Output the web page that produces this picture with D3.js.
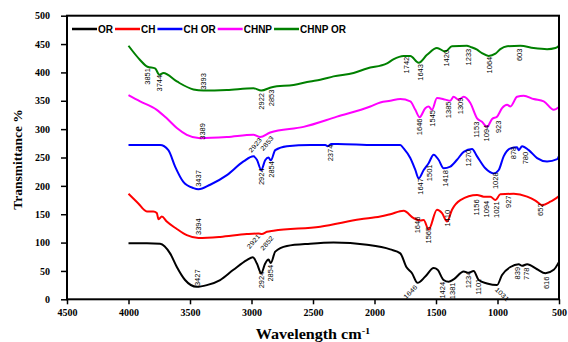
<!DOCTYPE html>
<html><head><meta charset="utf-8">
<script src="https://cdn.jsdelivr.net/npm/d3@7"></script>
<style>body{margin:0;background:#fff}svg{display:block}</style>
</head><body><svg id="c" width="568" height="342"></svg>
<script>
// ---- data ----
const seriesNames = ["OR","CH","CH OR","CHNP","CHNP OR"];
const seriesColors = ["#000000","#ff0000","#0000ff","#ff00ff","#008000"];
const xTicks = [4500,4000,3500,3000,2500,2000,1500,1000,500];
const yTicks = [0,50,100,150,200,250,300,350,400,450,500];

const dataOR = [[4000,99],[3850,99],[3743,98],[3662,81],[3607,57],[3540,34],[3445,22],[3363,25],[3255,34],[3147,52],[3038,69],[2989,74],[2956,63],[2921,46],[2889,63],[2862,70],[2843,64],[2807,84],[2712,94],[2523,98],[2333,100],[2061,96],[1872,88],[1790,81],[1741,57],[1695,46],[1650,29],[1587,40],[1519,55],[1487,52],[1438,34],[1397,31],[1357,35],[1275,49],[1235,47],[1194,50],[1153,34],[1085,28],[1004,25],[963,43],[895,57],[828,62],[800,59],[759,62],[678,53],[610,46],[543,52],[500,66]];
const dataCH = [[4000,186],[3920,169],[3851,155],[3798,155],[3770,152],[3756,141],[3729,146],[3689,137],[3607,124],[3526,113],[3431,108],[3255,110],[3038,115],[2943,116],[2916,115],[2875,119],[2821,121],[2441,128],[2116,141],[1953,146],[1872,150],[1763,156],[1682,143],[1627,139],[1600,140],[1560,123],[1492,158],[1451,152],[1410,137],[1370,158],[1302,175],[1166,184],[1112,181],[1058,181],[1017,175],[977,185],[868,186],[759,181],[692,174],[637,166],[570,172],[500,182]];
const dataCHOR = [[4000,272],[3743,272],[3676,263],[3621,234],[3554,207],[3472,196],[3431,194],[3336,202],[3200,219],[3065,243],[2984,252],[2956,246],[2921,228],[2889,245],[2862,250],[2843,245],[2807,263],[2712,270],[2523,272],[2400,272],[2380,270],[2350,274],[2300,274],[2000,272],[1790,272],[1763,266],[1709,249],[1668,228],[1641,213],[1600,228],[1560,240],[1519,255],[1479,246],[1438,231],[1384,234],[1329,246],[1275,260],[1207,265],[1166,252],[1099,231],[1031,222],[990,228],[950,252],[895,266],[841,268],[828,263],[800,270],[746,263],[678,249],[597,243],[515,247],[500,253]];
const dataCHNP = [[4000,360],[3906,349],[3770,334],[3689,319],[3607,302],[3526,290],[3418,284],[3200,286],[2984,290],[2930,286],[2848,294],[2577,304],[2305,322],[2034,340],[1953,347],[1872,350],[1790,353],[1709,349],[1668,334],[1633,321],[1587,337],[1560,340],[1533,334],[1492,355],[1424,352],[1384,350],[1357,357],[1316,352],[1275,357],[1221,346],[1166,319],[1126,313],[1085,304],[1044,318],[1004,322],[963,337],[922,343],[895,340],[841,357],[787,359],[706,353],[624,349],[543,334],[500,339]];
const dataCHNPOR = [[4000,447],[3906,422],[3846,410],[3784,407],[3749,396],[3716,399],[3607,384],[3472,370],[3391,368],[3200,369],[2984,372],[2921,368],[2834,374],[2658,378],[2523,384],[2441,387],[2333,393],[2170,399],[2061,407],[1898,416],[1847,423],[1763,429],[1709,429],[1641,417],[1573,431],[1492,443],[1424,437],[1370,446],[1248,447],[1221,445],[1166,440],[1126,434],[1072,429],[1017,433],[977,441],[922,446],[814,447],[706,443],[597,441],[529,443],[500,447]];

// peak annotations: [text, wavenumber, transmittance, rotation]
const labelsOR = [["3427",3434,38,-90],["2924",2921,34,-90],["2854",2842,46,-90],["1646",1709,13,-45],["1424",1443,16,-90],["1381",1362,15,-90],["1234",1237,34,-90],["1101",1156,22,-90],["1031",963,9,45],["839",838,46,-90],["778",759,45,-90],["616",602,29,-90]];
const labelsCH = [["3394",3432,128,-90],["2921",2984,102,-50],["2852",2875,99,-50],["1646",1646,131,-90],["1565",1560,113,-90],["1410",1402,143,-90],["1156",1172,162,-90],["1094",1091,159,-90],["1021",1003,158,-90],["927",909,172,-90],["652",645,158,-90]];
const labelsCHOR = [["3437",3432,213,-90],["2924",2921,216,-90],["2854",2834,229,-90],["2374",2352,258,-90],["1647",1622,199,-90],["1501",1552,223,-90],["1418",1419,213,-90],["1270",1235,249,-90],["1028",1017,209,-90],["878",868,258,-90],["780",771,249,-90]];
const labelsCHNP = [["3389",3396,296,-90],["2923",2970,272,-50],["2853",2875,275,-50],["1646",1633,304,-90],["1545",1524,319,-90],["1385",1397,334,-90],["1309",1302,341,-90],["1153",1172,299,-90],["1094",1085,293,-90],["923",991,304,-90]];
const labelsCHNPOR = [["3851",3847,393,-90],["3744",3749,381,-90],["3393",3391,384,-90],["2922",2916,349,-90],["2853",2834,355,-90],["1742",1742,413,-90],["1643",1622,400,-90],["1420",1416,425,-90],["1233",1235,427,-90],["1064",1064,413,-90],["603",820,431,-90]];

const allData = [dataOR,dataCH,dataCHOR,dataCHNP,dataCHNPOR];
const allLabels = [labelsOR,labelsCH,labelsCHOR,labelsCHNP,labelsCHNPOR];

// ---- layout ----
const svg = d3.select("#c");
const L=67, R=559, T=15.7, B=299.3;
const x = d3.scaleLinear().domain([4500,500]).range([L,R]);
const y = d3.scaleLinear().domain([0,500]).range([B,T]);
const serif = "'Liberation Serif','Times New Roman',serif";
const sans = "'Liberation Sans',Arial,sans-serif";

const line = d3.line().x(d=>x(d[0])).y(d=>y(d[1])).curve(d3.curveMonotoneX);
allData.forEach((d,i)=>{
  svg.append("path").datum(d).attr("d",line).attr("fill","none")
    .attr("stroke",seriesColors[i]).attr("stroke-width",2).attr("stroke-linejoin","round");
});

allLabels.forEach(arr=>{
  arr.forEach(l=>{
    svg.append("text").text(l[0])
      .attr("transform",`translate(${x(l[1])},${y(l[2])}) rotate(${l[3]}) scale(1,0.85)`)
      .attr("text-anchor","middle").attr("dominant-baseline","central")
      .attr("font-family",sans).attr("font-size",7.5).attr("fill","#000");
  });
});

// axes
const ax = svg.append("g").attr("transform",`translate(0,${B})`)
  .call(d3.axisBottom(x).tickValues(xTicks).tickFormat(d3.format("d")).tickSize(5).tickPadding(5));
const ay = svg.append("g").attr("transform",`translate(${L},0)`)
  .call(d3.axisLeft(y).tickValues(yTicks).tickFormat(d3.format("d")).tickSize(6).tickPadding(11));
[ax,ay].forEach(g=>{
  g.select(".domain").remove();
  g.selectAll(".tick line").attr("stroke","#000").attr("stroke-width",1.5);
  g.selectAll("text").attr("font-family",serif).attr("font-weight","bold").attr("font-size",10).attr("fill","#000");
});
svg.append("rect").attr("x",L).attr("y",T).attr("width",R-L).attr("height",B-T)
  .attr("fill","none").attr("stroke","#000").attr("stroke-width",2);

// titles
svg.append("text").attr("transform",`translate(18,${(T+B)/2+2}) rotate(-90) scale(1,0.85)`)
  .attr("text-anchor","middle").attr("dominant-baseline","central")
  .attr("font-family",serif).attr("font-weight","bold").attr("font-size",13.5).text("Transmittance %");
const xt = svg.append("text").attr("transform",`translate(${(L+R)/2},339) scale(1.15,1)`).attr("text-anchor","middle")
  .attr("font-family",serif).attr("font-weight","bold").attr("font-size",14);
xt.append("tspan").text("Wavelength cm");
xt.append("tspan").attr("dy",-5).attr("font-size",9).text("-1");

// legend
let lx = 72;
const ly = 29;
seriesNames.forEach((n,i)=>{
  svg.append("line").attr("x1",lx).attr("x2",lx+25).attr("y1",ly).attr("y2",ly)
    .attr("stroke",seriesColors[i]).attr("stroke-width",2.5);
  const t = svg.append("text").attr("x",lx+26).attr("y",ly).attr("dominant-baseline","central")
    .attr("font-family",sans).attr("font-weight","bold").attr("font-size",10).text(n);
  lx += 26 + t.node().getComputedTextLength() + 2;
});
</script></body></html>
